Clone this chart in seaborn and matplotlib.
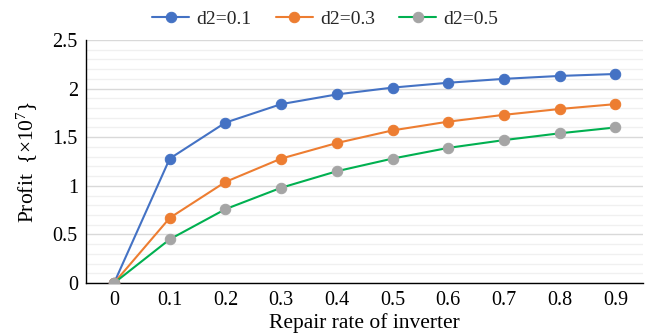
import matplotlib
matplotlib.use("Agg")
import matplotlib.pyplot as plt
import seaborn as sns
import pandas as pd
from matplotlib.ticker import MultipleLocator

repair_rate = [0, 0.1, 0.2, 0.3, 0.4, 0.5, 0.6, 0.7, 0.8, 0.9]
d2_01 = [0, 1.28, 1.65, 1.84, 1.94, 2.01, 2.06, 2.10, 2.13, 2.15]
d2_03 = [0, 0.67, 1.04, 1.28, 1.44, 1.57, 1.66, 1.73, 1.79, 1.84]
d2_05 = [0, 0.45, 0.76, 0.98, 1.15, 1.28, 1.39, 1.47, 1.54, 1.60]
series_names = ["d2=0.1", "d2=0.3", "d2=0.5"]
x_labels = ["0", "0.1", "0.2", "0.3", "0.4", "0.5", "0.6", "0.7", "0.8", "0.9"]

sns.set_theme(style="white")
plt.rcParams["font.family"] = ["Liberation Serif", "DejaVu Serif"]
plt.rcParams["mathtext.fontset"] = "custom"
plt.rcParams["mathtext.rm"] = "Liberation Serif"
plt.rcParams["mathtext.it"] = "Liberation Serif:italic"

fig = plt.figure(figsize=(6.53, 3.33), dpi=100)
ax = fig.add_axes([0.132, 0.150, 0.853, 0.730])

line_colors = ["#4472C4", "#ED7D31", "#00B050"]
marker_colors = ["#4472C4", "#ED7D31", "#A5A5A5"]

for name, vals, lc, mc in zip(series_names, [d2_01, d2_03, d2_05], line_colors, marker_colors):
    df = pd.DataFrame({"x": repair_rate, "y": vals})
    sns.lineplot(data=df, x="x", y="y", ax=ax, color=lc, marker="o",
                 markersize=7.5, markerfacecolor=mc, markeredgecolor=mc,
                 linewidth=1.5, label=name, zorder=3)

ax.set_xlim(-0.05, 0.95)
ax.set_ylim(0, 2.5)
ax.set_xticks(repair_rate)
ax.set_xticklabels(x_labels)
ax.yaxis.set_major_locator(MultipleLocator(0.5))
ax.yaxis.set_minor_locator(MultipleLocator(0.1))
ax.set_yticks([0, 0.5, 1, 1.5, 2, 2.5])
ax.set_yticklabels(["0", "0.5", "1", "1.5", "2", "2.5"])
ax.grid(axis="y", which="major", color="#D9D9D9", linewidth=1.0, zorder=0)
ax.grid(axis="y", which="minor", color="#F0F0F0", linewidth=1.0, zorder=0)
ax.grid(axis="x", visible=False)
ax.tick_params(axis="both", which="both", length=0, labelsize=14.5, colors="black", pad=6)
for s in ["top", "right"]:
    ax.spines[s].set_visible(False)
for s in ["left", "bottom"]:
    ax.spines[s].set_color("black")
    ax.spines[s].set_linewidth(1.0)

ax.set_xlabel("Repair rate of inverter", fontsize=15.5, labelpad=2, color="black")
ax.set_ylabel("Profit  {×10$^7$}", fontsize=15.5, labelpad=9, color="black")

ax.get_legend().remove()
handles, labels = ax.get_legend_handles_labels()
fig.legend(handles, labels, loc="center", bbox_to_anchor=(0.498, 0.942), ncol=3,
           frameon=False, fontsize=14, handlelength=1.9, columnspacing=1.25,
           handletextpad=0.36)

fig.savefig("out.png", dpi=100)
